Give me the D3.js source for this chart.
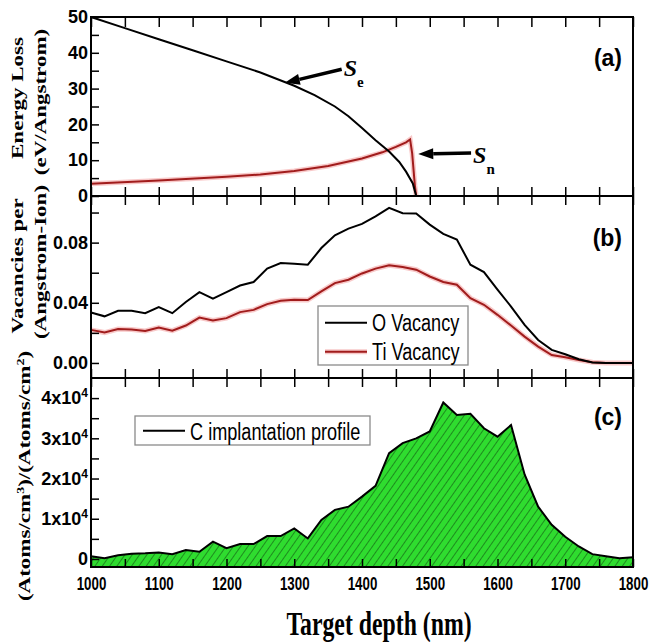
<!DOCTYPE html>
<html>
<head>
<meta charset="utf-8">
<script src="https://cdn.jsdelivr.net/npm/d3@7"></script>
<style>
  body { margin: 0; background: #fff; }
</style>
</head>
<body>
<div class="graph"></div>
<script>
// depth grid shared by vacancy and implantation profiles (nm)
var depth = [1000,1020,1040,1060,1080,1100,1120,1140,1160,1180,1200,1220,1240,1260,1280,1300,1320,1340,1360,1380,
             1400,1420,1440,1460,1480,1500,1520,1540,1560,1580,1600,1620,1640,1660,1680,1700,1720,1740,1760,1780,1800];
var oVacancy = [0.0335,0.0310,0.0347,0.0347,0.0331,0.0371,0.0331,0.0405,0.0471,0.0427,0.0471,0.0515,0.0538,0.0627,0.0664,0.0660,0.0653,0.0764,0.0849,0.0893,
                0.0925,0.0975,0.1031,0.0995,0.0993,0.0920,0.0858,0.0820,0.0653,0.0604,0.0487,0.0375,0.0253,0.0153,0.0087,0.0058,0.0025,0.0003,0.0,0.0,0.0];
var tiVacancy = [0.0220,0.0202,0.0225,0.0222,0.0213,0.0235,0.0215,0.0249,0.0302,0.0282,0.0298,0.0338,0.0353,0.0391,0.0413,0.0420,0.0418,0.0476,0.0531,0.0553,
                 0.0595,0.0627,0.0649,0.0638,0.0620,0.0575,0.0538,0.0520,0.0431,0.0387,0.0320,0.0249,0.0175,0.0109,0.0053,0.0038,0.0020,0.0005,0.0,0.0,0.0];
var cProfile = [700,200,900,1300,1400,1600,1200,2200,1800,4300,2700,3700,3700,5700,5700,7600,5100,9700,12200,13000,
                15500,18200,26300,28800,30000,31700,38900,35800,36100,32500,30400,33300,21000,13000,8500,5500,3100,1200,700,200,400];

// stopping powers (eV/Angstrom)
var seDepth = [1000,1050,1100,1150,1200,1250,1300,1330,1360,1380,1400,1420,1440,1455,1465,1475,1480];
var seLoss  = [50,46.9,43.8,40.7,37.6,34.5,30.8,28.2,25.0,22.3,19.0,15.6,12.4,9.5,6.8,3.5,0];
var snDepth = [1000,1100,1200,1250,1300,1350,1400,1430,1450,1465,1471,1474,1478,1480];
var snLoss  = [3.4,4.3,5.4,6.0,7.0,8.4,10.5,12.2,13.7,15.0,15.8,12,3,0];

// ticks
var depthMajor = [1000,1100,1200,1300,1400,1500,1600,1700,1800];
var depthMinor = [1050,1150,1250,1350,1450,1550,1650,1750];
var lossMajor = [0,10,20,30,40,50];
var lossMinor = [5,15,25,35,45];
var vacMajor = [0,0.04,0.08];
var vacMinor = [0.02,0.06,0.10];
var cMajor = [0,10000,20000,30000,40000];
var cMinor = [5000,15000,25000,35000];

var w = 651, h = 642;
var sans = "'Liberation Sans', Arial, sans-serif";
var serif = "'Liberation Serif', 'Times New Roman', serif";
var squeeze = 0.72;

var svg = d3.select(".graph").append("svg")
  .attr("width", w)
  .attr("height", h);

var x = d3.scaleLinear().domain([1000, 1800]).range([91, 633]);
var yA = d3.scaleLinear().domain([0, 50]).range([196, 17]);
var yB = d3.scaleLinear().domain([-0.01, 0.111]).range([378, 196]);
var yC = d3.scaleLinear().domain([-2000, 45000]).range([567, 378]);

// hatch for implantation area
var defs = svg.append("defs");
var pat = defs.append("pattern")
  .attr("id", "hatch")
  .attr("width", 6).attr("height", 6)
  .attr("patternUnits", "userSpaceOnUse")
  .attr("patternTransform", "rotate(35)");
pat.append("rect").attr("width", 6).attr("height", 6).attr("fill", "#2fdc2f");
pat.append("line").attr("x1", 0).attr("y1", 0).attr("x2", 0).attr("y2", 6)
  .attr("stroke", "#0f4a0f").attr("stroke-width", 1.1);

var vacRows = depth.map(function(d, i) { return {x: d, o: oVacancy[i], ti: tiVacancy[i], c: cProfile[i]}; });

// ---- panel (c) ----
var area = d3.area()
  .x(function(d) { return x(d.x); })
  .y0(yC.range()[0])
  .y1(function(d) { return yC(d.c); });
svg.append("path").datum(vacRows)
  .attr("d", area)
  .attr("fill", "url(#hatch)");
svg.append("path").datum(vacRows)
  .attr("d", d3.line().x(function(d) { return x(d.x); }).y(function(d) { return yC(d.c); }))
  .attr("fill", "none").attr("stroke", "#000").attr("stroke-width", 2);

// ---- panel (b) ----
var tiLine = d3.line().x(function(d) { return x(d.x); }).y(function(d) { return yB(d.ti); });
var oLine = d3.line().x(function(d) { return x(d.x); }).y(function(d) { return yB(d.o); });
svg.append("path").datum(vacRows).attr("d", tiLine)
  .attr("fill", "none").attr("stroke", "#f3a5a5").attr("stroke-width", 5).attr("opacity", 0.6);
svg.append("path").datum(vacRows).attr("d", tiLine)
  .attr("fill", "none").attr("stroke", "#a11c1c").attr("stroke-width", 2);
svg.append("path").datum(vacRows).attr("d", oLine)
  .attr("fill", "none").attr("stroke", "#000").attr("stroke-width", 2);

// ---- panel (a) ----
var seRows = seDepth.map(function(d, i) { return {x: d, v: seLoss[i]}; });
var snRows = snDepth.map(function(d, i) { return {x: d, v: snLoss[i]}; });
var lossLine = d3.line().x(function(d) { return x(d.x); }).y(function(d) { return yA(d.v); });
svg.append("path").datum(snRows).attr("d", lossLine)
  .attr("fill", "none").attr("stroke", "#f3a5a5").attr("stroke-width", 5).attr("opacity", 0.6);
svg.append("path").datum(snRows).attr("d", lossLine)
  .attr("fill", "none").attr("stroke", "#a11c1c").attr("stroke-width", 2);
svg.append("path").datum(seRows).attr("d", lossLine)
  .attr("fill", "none").attr("stroke", "#000").attr("stroke-width", 2);

// ---- axes ----
function leftAxis(scale, majors, minors, fmt) {
  var g = svg.append("g").attr("transform", "translate(91,0)")
    .call(d3.axisLeft(scale)
      .tickValues(majors.concat(minors))
      .tickSizeInner(-8).tickSizeOuter(0).tickPadding(3)
      .tickFormat(function(d) { return majors.indexOf(d) >= 0 ? fmt(d) : ""; }));
  g.select(".domain").remove();
  g.selectAll("line").attr("stroke-width", 1.5);
  g.selectAll("text")
    .attr("font-family", sans).attr("font-weight", "bold").attr("font-size", 18);
  return g;
}
leftAxis(yA, lossMajor, lossMinor, d3.format("d"));
leftAxis(yB, vacMajor, vacMinor, d3.format(".2f"));
var gc = leftAxis(yC, cMajor, cMinor, function(d) { return String(d); });
gc.selectAll("text").each(function(d) {
  var t = d3.select(this);
  if (d === 0 || cMajor.indexOf(d) < 0) return;
  t.text(null);
  t.append("tspan").text((d / 10000) + "x10");
  t.append("tspan").attr("dy", -7).attr("font-size", 12).text("4");
});

var allDepth = depthMajor.concat(depthMinor);
// top of panel (a): inward ticks
var gt = svg.append("g").attr("transform", "translate(0,17)")
  .call(d3.axisTop(x).tickValues(allDepth).tickSizeInner(-10).tickSizeOuter(0).tickFormat(""));
gt.select(".domain").remove();
gt.selectAll("line").attr("stroke-width", 1.5);
// shared panel borders: ticks crossing
[196, 378].forEach(function(yy) {
  var g = svg.append("g").attr("transform", "translate(0," + yy + ")")
    .call(d3.axisBottom(x).tickValues(allDepth).tickSizeInner(9).tickSizeOuter(0).tickFormat(""));
  g.select(".domain").remove();
  g.selectAll("line").attr("y1", -9).attr("stroke-width", 1.5);
});
// bottom axis
var gb = svg.append("g").attr("transform", "translate(0,567)")
  .call(d3.axisBottom(x).tickValues(allDepth).tickSizeInner(-8).tickSizeOuter(0)
    .tickFormat(function(d) { return depthMajor.indexOf(d) >= 0 ? d : ""; }));
gb.select(".domain").remove();
gb.selectAll("line").attr("stroke-width", 1.5);
gb.selectAll("text")
  .attr("y", null).attr("dy", null)
  .attr("transform", "translate(0,23) scale(" + squeeze + ",1)")
  .attr("font-family", sans).attr("font-weight", "bold").attr("font-size", 18.5);

// frames
[[yA], [yB], [yC]].forEach(function(s) {
  var r = s[0].range();
  svg.append("rect")
    .attr("x", 91).attr("y", r[1])
    .attr("width", 633 - 91).attr("height", r[0] - r[1])
    .attr("fill", "none").attr("stroke", "#000").attr("stroke-width", 2);
});

// ---- axis titles ----
function vLabel(xb, yc, size) {
  return svg.append("text")
    .attr("transform", "translate(" + xb + "," + yc + ") scale(" + squeeze + ",1) rotate(-90)")
    .attr("text-anchor", "middle")
    .attr("font-family", serif).attr("font-weight", "bold").attr("font-size", size);
}
vLabel(23, 98, 23).text("Energy Loss");
vLabel(46, 102, 23).text("(eV/Angstrom)");
vLabel(23, 266, 23).text("Vacancies per");
vLabel(46, 262, 23).text("(Angstrom-Ion)");
var cl = vLabel(30, 476, 23);
cl.append("tspan").text("(Atoms/cm");
cl.append("tspan").attr("dy", -9).attr("font-size", 14).text("3");
cl.append("tspan").attr("dy", 9).text(")/(Atoms/cm");
cl.append("tspan").attr("dy", -9).attr("font-size", 14).text("2");
cl.append("tspan").attr("dy", 9).text(")");

svg.append("text")
  .attr("transform", "translate(379,635) scale(" + squeeze + ",1)")
  .attr("text-anchor", "middle")
  .attr("font-family", serif).attr("font-weight", "bold").attr("font-size", 33)
  .text("Target depth (nm)");

// panel tags
[["(a)", 66], ["(b)", 246], ["(c)", 425]].forEach(function(p) {
  svg.append("text")
    .attr("x", 622).attr("y", p[1])
    .attr("text-anchor", "end")
    .attr("font-family", sans).attr("font-weight", "bold").attr("font-size", 23)
    .text(p[0]);
});

// ---- annotations in panel (a) ----
function arrow(x1, y1, x2, y2) {
  var ang = Math.atan2(y2 - y1, x2 - x1);
  var len = 15, half = 5.5;
  var bx = x2 - len * Math.cos(ang), by = y2 - len * Math.sin(ang);
  svg.append("line")
    .attr("x1", x1).attr("y1", y1).attr("x2", bx).attr("y2", by)
    .attr("stroke", "#000").attr("stroke-width", 3.5);
  svg.append("polygon")
    .attr("points", [
      [x2, y2],
      [bx + half * Math.sin(ang), by - half * Math.cos(ang)],
      [bx - half * Math.sin(ang), by + half * Math.cos(ang)]
    ].map(function(p) { return p.join(","); }).join(" "))
    .attr("fill", "#000");
}
function sLabel(xx, yy, sub) {
  var t = svg.append("text").attr("x", xx).attr("y", yy)
    .attr("font-family", serif).attr("font-weight", "bold");
  t.append("tspan").attr("font-style", "italic").attr("font-size", 24).text("S");
  t.append("tspan").attr("dy", 11).attr("font-size", 15).text(sub);
}
arrow(x(1370), yA(35.4), x(1286), yA(31.6));
sLabel(x(1373), yA(33.5), "e");
arrow(x(1561), yA(12.0), x(1483), yA(11.7));
sLabel(x(1564), yA(9.3), "n");

// ---- legends ----
function legendBox(x0, y0, x1, y1) {
  svg.append("rect")
    .attr("x", x0).attr("y", y0).attr("width", x1 - x0).attr("height", y1 - y0)
    .attr("fill", "#fff").attr("stroke", "#8a8a8a").attr("stroke-width", 1.3);
}
function legendText(xx, yy, str) {
  svg.append("text")
    .attr("transform", "translate(" + xx + "," + yy + ") scale(0.74,1)")
    .attr("font-family", sans).attr("font-size", 24.5)
    .text(str);
}
legendBox(318, 306, 468, 365);
svg.append("line").attr("x1", 325).attr("x2", 367).attr("y1", 322.7).attr("y2", 322.7)
  .attr("stroke", "#000").attr("stroke-width", 2);
svg.append("line").attr("x1", 325).attr("x2", 367).attr("y1", 351.7).attr("y2", 351.7)
  .attr("stroke", "#f3a5a5").attr("stroke-width", 5).attr("opacity", 0.6);
svg.append("line").attr("x1", 325).attr("x2", 367).attr("y1", 351.7).attr("y2", 351.7)
  .attr("stroke", "#a11c1c").attr("stroke-width", 2);
legendText(372, 331, "O Vacancy");
legendText(372, 360, "Ti Vacancy");

legendBox(135, 416, 370, 445);
svg.append("line").attr("x1", 143).attr("x2", 185).attr("y1", 430.7).attr("y2", 430.7)
  .attr("stroke", "#000").attr("stroke-width", 2);
legendText(190, 439.5, "C implantation profile");
</script>
</body>
</html>
